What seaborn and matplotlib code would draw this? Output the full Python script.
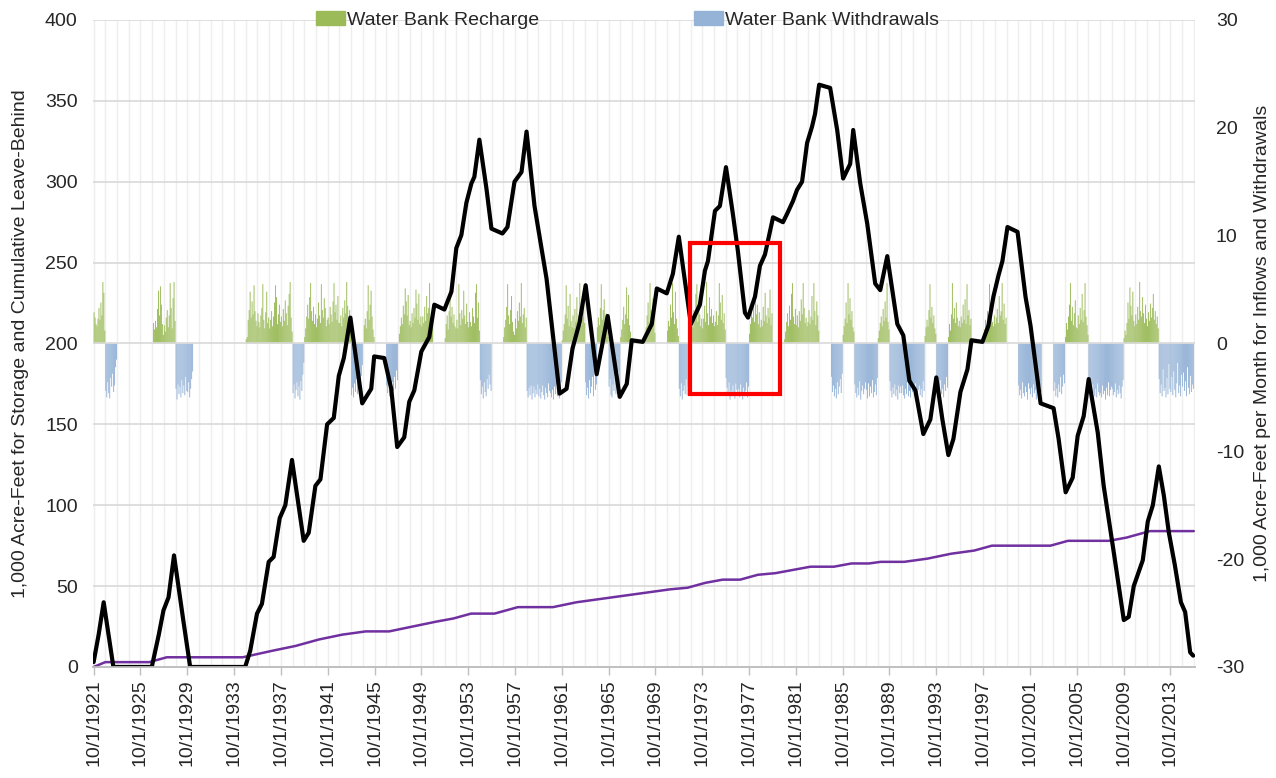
import numpy as np
import seaborn as sns
import matplotlib.pyplot as plt
from matplotlib.patches import Rectangle, Patch

# storage (1,000 AF); x in decimal years
storage_year = [1921.75, 1922.18, 1922.61, 1923.44, 1926.72, 1927.32, 1927.72, 1928.15, 1928.62,
                1929.43, 1930.00, 1934.70, 1935.13, 1935.71, 1936.13, 1936.71, 1937.13, 1937.65,
                1938.13, 1938.70, 1939.70, 1940.13, 1940.70, 1941.13, 1941.70, 1942.27, 1942.70,
                1943.13, 1943.69, 1944.70, 1945.47, 1945.72, 1946.58, 1947.18, 1947.69, 1948.29,
                1948.72, 1949.15, 1949.75, 1950.43, 1950.86, 1951.72, 1952.32, 1952.74, 1953.17,
                1953.60, 1954.03, 1954.28, 1954.71, 1955.31, 1955.74, 1956.68, 1957.11, 1957.71,
                1958.31, 1958.74, 1959.42, 1960.45, 1961.56, 1962.16, 1962.67, 1963.27, 1963.79,
                1964.73, 1965.67, 1966.70, 1967.30, 1967.73, 1968.67, 1969.44, 1969.87, 1970.72,
                1971.24, 1971.75, 1972.78, 1973.55, 1973.98, 1974.24, 1974.84, 1975.26, 1975.78,
                1976.37, 1976.80, 1977.40, 1977.66, 1978.26, 1978.68, 1979.11, 1979.80, 1980.65,
                1980.99, 1981.50, 1981.85, 1982.28, 1982.71, 1983.13, 1983.39, 1983.74, 1984.68,
                1985.28, 1985.79, 1986.39, 1986.65, 1987.25, 1987.85, 1988.53, 1988.96, 1989.56,
                1990.42, 1990.93, 1991.45, 1991.96, 1992.64, 1993.24, 1993.75, 1994.27, 1994.78,
                1995.21, 1995.81, 1996.41, 1996.75, 1997.69, 1998.20, 1998.63, 1999.06, 1999.40,
                1999.83, 2000.69, 2001.37, 2001.80, 2002.66, 2003.77, 2004.20, 2004.80, 2005.40,
                2005.83, 2006.34, 2006.77, 2007.54, 2008.05, 2008.91, 2009.77, 2010.19, 2010.62,
                2011.39, 2011.82, 2012.25, 2012.76, 2013.19, 2013.62, 2014.13, 2014.65, 2015.01,
                2015.44, 2015.70]
storage_kaf = [3, 20, 40, 0, 0, 20, 35, 43, 69,
               28, 0, 0, 10, 33, 39, 65, 68, 92,
               100, 128, 78, 83, 112, 116, 150, 154, 180,
               191, 216, 163, 172, 192, 191, 172, 136, 142,
               164, 171, 195, 204, 224, 221, 232, 259, 267,
               287, 299, 303, 326, 296, 271, 268, 272, 300,
               306, 331, 285, 240, 169, 172, 197, 213, 236,
               181, 217, 167, 175, 202, 201, 212, 234, 231,
               243, 266, 212, 224, 245, 251, 282, 285, 309,
               280, 257, 219, 216, 229, 248, 255, 278, 275,
               280, 288, 295, 300, 324, 334, 342, 360, 358,
               332, 302, 311, 332, 299, 274, 237, 233, 254,
               212, 205, 177, 171, 144, 153, 179, 153, 131,
               141, 170, 184, 202, 201, 211, 229, 242, 251,
               272, 269, 229, 211, 163, 160, 141, 108, 117,
               143, 155, 178, 145, 112, 71, 29, 31, 50,
               66, 90, 100, 124, 106, 83, 63, 40, 34,
               9, 7]

# cumulative leave-behind (purple line)
leave_year = [1921.75, 1922.75, 1926.5, 1928.0, 1934.5, 1937.0, 1939.0, 1941.0, 1943.0, 1945.0,
              1947.0, 1949.0, 1951.0, 1952.5, 1954.0, 1956.0, 1958.0, 1961.0, 1963.0, 1965.0,
              1967.0, 1969.0, 1971.0, 1972.5, 1974.0, 1975.5, 1977.0, 1978.5, 1980.0, 1981.5,
              1983.0, 1985.0, 1986.5, 1988.0, 1989.0, 1991.0, 1993.0, 1995.0, 1997.0, 1998.5,
              2003.5, 2005.0, 2008.5, 2010.0, 2012.0, 2015.75]
leave_kaf = [0, 3, 3, 6, 6, 10, 13, 17, 20, 22,
             22, 25, 28, 30, 33, 33, 37, 37, 40, 42,
             44, 46, 48, 49, 52, 54, 54, 57, 58, 60,
             62, 62, 64, 64, 65, 65, 67, 70, 72, 75,
             75, 78, 78, 80, 84, 84]

# monthly recharge (Oct..Sep of each water year), 1,000 AF per month
recharge_wy = [1922, 1927, 1928, 1935, 1936, 1937, 1938, 1940, 1941, 1942, 1943, 1945,
               1948, 1949, 1950, 1952, 1953, 1954, 1957, 1958, 1962, 1963, 1965, 1967,
               1969, 1971, 1973, 1974, 1975, 1978, 1979, 1981, 1982, 1983, 1986, 1989,
               1993, 1995, 1996, 1998, 1999, 2005, 2006, 2010, 2011, 2012]
recharge_monthly = [
    [2.9, 2.4, 1.8, 1.6, 2.3, 3.3, 2.2, 3.8, 2.6, 5.7, 4.7, 1.2],
    [0.0, 1.9, 1.3, 2.1, 1.5, 3.2, 4.9, 2.6, 5.3, 3.6, 1.8, 0.8],
    [1.7, 1.1, 2.4, 3.1, 1.5, 2.6, 5.6, 3.3, 1.4, 4.2, 5.7, 2.1],
    [0.4, 0.6, 2.2, 3.1, 4.8, 2.4, 3.9, 2.7, 5.4, 3.0, 2.1, 1.6],
    [2.8, 2.0, 1.5, 2.6, 3.3, 5.5, 2.2, 1.4, 2.9, 4.8, 1.9, 2.4],
    [1.4, 2.2, 3.0, 1.6, 2.5, 3.8, 5.4, 4.3, 1.8, 2.7, 3.6, 2.0],
    [2.5, 1.6, 3.2, 2.1, 4.0, 2.8, 1.7, 3.5, 4.6, 5.7, 2.4, 1.1],
    [0.6, 1.4, 2.5, 3.6, 2.3, 4.3, 5.6, 3.0, 2.1, 3.4, 1.8, 2.7],
    [1.5, 2.3, 3.8, 2.6, 1.9, 5.5, 3.1, 2.4, 4.2, 3.3, 1.6, 2.2],
    [2.4, 1.8, 3.4, 2.7, 2.0, 3.9, 5.6, 2.9, 3.6, 2.2, 4.4, 1.9],
    [1.9, 2.6, 1.6, 3.3, 2.4, 4.0, 2.8, 5.7, 3.5, 2.0, 3.1, 1.4],
    [0.0, 1.7, 2.3, 1.4, 3.0, 5.4, 2.2, 3.6, 4.9, 2.5, 1.3, 0.6],
    [0.0, 0.9, 1.6, 2.4, 1.8, 3.5, 2.7, 5.1, 3.9, 2.6, 4.5, 1.7],
    [2.1, 1.5, 2.8, 1.9, 3.3, 2.4, 5.0, 3.7, 2.2, 4.6, 1.8, 2.5],
    [1.6, 2.5, 1.9, 3.4, 2.1, 4.4, 2.8, 3.3, 5.6, 2.4, 1.9, 2.9],
    [0.5, 1.8, 2.6, 1.3, 3.0, 4.8, 2.5, 3.4, 1.9, 2.7, 1.6, 1.4],
    [2.2, 1.4, 5.5, 2.8, 1.7, 3.1, 2.3, 4.9, 2.6, 1.8, 3.7, 2.0],
    [1.5, 2.9, 2.0, 1.6, 3.3, 2.5, 1.9, 4.7, 5.5, 2.4, 3.8, 1.2],
    [0.6, 1.5, 2.2, 3.4, 5.5, 2.6, 1.8, 3.1, 4.4, 2.0, 1.1, 0.8],
    [2.3, 1.4, 3.0, 2.1, 3.8, 2.5, 5.6, 1.9, 2.7, 3.3, 1.5, 2.4],
    [0.3, 1.2, 1.8, 2.7, 5.4, 2.3, 3.5, 1.6, 4.6, 2.1, 1.5, 2.6],
    [1.4, 3.2, 2.0, 4.3, 1.8, 2.6, 5.6, 3.0, 1.7, 2.4, 4.8, 1.9],
    [1.5, 2.4, 1.7, 3.3, 5.5, 2.2, 3.1, 4.1, 1.6, 2.8, 1.2, 0.6],
    [0.6, 1.3, 2.2, 3.4, 1.8, 2.7, 5.2, 2.3, 4.5, 1.7, 1.1, 0.5],
    [0.0, 0.8, 1.5, 2.6, 3.8, 2.0, 5.6, 3.1, 1.7, 4.2, 2.4, 1.0],
    [1.2, 2.1, 1.6, 3.6, 2.4, 5.6, 2.9, 1.8, 4.8, 2.3, 1.4, 0.7],
    [1.8, 2.6, 1.5, 3.1, 2.2, 4.6, 5.5, 2.0, 3.4, 2.7, 1.6, 2.3],
    [1.4, 2.3, 3.5, 2.0, 5.7, 2.8, 1.7, 4.3, 2.5, 3.2, 1.9, 2.6],
    [1.6, 2.0, 3.0, 1.7, 2.6, 5.6, 3.8, 2.2, 4.5, 1.9, 2.8, 1.3],
    [0.9, 1.8, 3.1, 2.4, 4.2, 2.0, 5.3, 2.7, 3.6, 1.8, 2.9, 1.5],
    [2.2, 1.6, 3.4, 2.1, 4.7, 2.6, 1.9, 3.3, 2.4, 5.0, 1.7, 2.8],
    [0.4, 1.1, 2.0, 2.8, 1.6, 3.5, 2.2, 4.6, 5.6, 2.5, 1.8, 3.2],
    [1.7, 2.6, 1.5, 3.0, 2.1, 4.1, 2.7, 5.6, 3.3, 1.9, 2.4, 1.6],
    [2.0, 3.1, 1.8, 2.5, 4.4, 2.2, 5.6, 3.0, 1.7, 3.9, 2.6, 1.2],
    [0.8, 1.6, 2.3, 3.8, 1.9, 5.6, 2.7, 4.2, 2.2, 3.0, 1.5, 1.1],
    [0.5, 1.2, 1.9, 2.5, 1.6, 3.2, 2.1, 3.9, 2.4, 5.6, 2.0, 1.3],
    [0.7, 1.5, 2.2, 1.6, 3.1, 5.5, 2.4, 3.4, 1.9, 2.6, 1.4, 0.9],
    [0.6, 1.8, 1.2, 2.7, 5.6, 2.3, 3.3, 1.9, 3.8, 2.4, 1.6, 2.1],
    [1.5, 2.5, 1.9, 3.6, 2.2, 4.1, 1.8, 5.5, 2.6, 3.1, 1.7, 2.3],
    [0.4, 1.3, 2.2, 1.7, 3.0, 2.4, 5.5, 2.9, 3.5, 2.0, 1.6, 2.6],
    [1.8, 2.4, 3.2, 1.9, 4.4, 2.6, 3.0, 5.6, 2.2, 3.7, 1.8, 2.4],
    [0.6, 1.9, 1.3, 2.5, 3.6, 5.6, 2.1, 3.4, 1.7, 2.8, 4.0, 1.5],
    [1.4, 2.6, 1.8, 3.3, 2.2, 4.6, 2.0, 3.1, 5.6, 2.5, 1.7, 0.8],
    [0.5, 1.2, 0.8, 1.9, 3.8, 2.3, 5.2, 3.5, 2.6, 4.8, 2.1, 1.6],
    [2.7, 1.8, 3.4, 2.2, 5.7, 3.0, 2.5, 4.3, 2.8, 1.9, 3.6, 2.3],
    [1.6, 2.9, 2.1, 3.7, 2.4, 3.3, 4.6, 2.2, 3.0, 1.8, 2.5, 1.4],
]

# monthly withdrawals (Oct..Sep of each water year)
withdrawal_wy = [1923, 1929, 1930, 1939, 1944, 1947, 1955, 1959, 1960, 1961, 1964, 1966,
                 1972, 1976, 1977, 1985, 1987, 1988, 1990, 1991, 1992, 1994, 2001, 2002,
                 2004, 2007, 2008, 2009, 2013, 2014, 2015]
withdrawal_monthly = [
    [-4.4, -5.0, -3.6, -4.6, -5.1, -3.2, -4.0, -2.8, -4.5, -3.9, -2.2, -1.5],
    [-4.2, -5.2, -3.8, -4.7, -4.0, -5.0, -3.4, -4.6, -3.9, -4.8, -3.1, -4.4],
    [-4.5, -3.6, -5.0, -4.2, -3.3, -2.6, 0.0, 0.0, 0.0, 0.0, 0.0, 0.0],
    [-4.6, -3.8, -5.1, -4.3, -3.6, -4.9, -4.0, -5.2, -3.5, -4.4, -2.9, -1.8],
    [-4.8, -4.1, -5.0, -3.7, -4.5, -3.3, -4.7, -3.9, -2.8, -4.3, -3.0, -2.0],
    [-3.9, -4.6, -3.2, -4.9, -4.1, -5.0, -3.6, -4.4, -3.1, -4.2, -2.5, -3.4],
    [-3.4, -4.7, -4.0, -5.1, -3.6, -4.5, -4.9, -3.3, -4.2, -2.9, -3.8, -4.4],
    [-4.4, -5.0, -4.1, -4.8, -3.9, -5.2, -4.6, -4.0, -5.0, -4.3, -4.7, -3.8],
    [-4.9, -4.2, -5.1, -4.5, -3.9, -4.8, -5.2, -4.1, -4.6, -5.0, -3.7, -4.4],
    [-4.6, -5.0, -4.3, -5.2, -4.0, -4.7, -3.8, -4.9, -4.4, -5.1, -4.2, -3.6],
    [-3.6, -4.8, -4.1, -5.1, -3.4, -4.6, -4.0, -3.1, -4.9, -2.7, -4.3, -3.8],
    [-4.0, -3.3, -4.8, -5.0, -3.8, -4.4, -2.9, -4.7, -3.5, -4.1, -2.6, -3.9],
    [-4.2, -4.9, -3.7, -5.2, -4.4, -3.9, -4.7, -3.3, -4.8, -4.0, -2.8, -3.5],
    [-3.2, -4.1, -4.7, -3.6, -5.2, -4.4, -4.9, -3.9, -4.6, -5.1, -3.7, -4.3],
    [-4.8, -4.2, -5.0, -3.8, -4.6, -5.2, -4.1, -4.9, -4.4, -3.6, -5.0, -4.0],
    [-3.1, -4.5, -3.9, -4.9, -4.2, -5.1, -3.6, -4.7, -4.0, -3.3, -4.6, -2.8],
    [-3.8, -4.6, -5.0, -4.1, -4.8, -3.5, -5.2, -4.4, -3.9, -4.7, -4.2, -3.6],
    [-4.3, -5.1, -3.7, -4.9, -4.0, -4.6, -3.4, -5.0, -4.5, -3.8, -4.8, -3.2],
    [-3.5, -4.4, -5.0, -4.1, -4.7, -3.8, -4.9, -4.3, -5.2, -3.9, -4.6, -4.0],
    [-4.6, -3.9, -4.8, -5.1, -4.2, -4.7, -3.6, -4.9, -4.4, -5.0, -3.8, -4.5],
    [-4.1, -4.9, -3.7, -4.6, -5.2, -4.3, -3.9, -4.8, -4.2, -5.0, -3.5, -4.4],
    [-3.7, -4.5, -4.0, -4.9, -3.4, -4.7, -4.2, -5.0, -3.8, -4.4, -3.1, -4.1],
    [-3.9, -4.8, -4.3, -5.1, -3.6, -4.6, -4.9, -4.0, -4.5, -5.2, -3.7, -4.2],
    [-4.7, -4.1, -5.0, -3.8, -4.6, -4.3, -5.2, -3.5, -4.8, -4.4, -3.9, -4.5],
    [-4.4, -3.6, -4.9, -4.2, -5.0, -3.8, -4.5, -3.1, -4.7, -4.0, -2.9, -3.7],
    [-4.0, -4.7, -4.3, -5.1, -3.8, -4.6, -4.9, -4.2, -5.0, -3.7, -4.5, -4.8],
    [-4.6, -5.0, -3.9, -4.7, -4.4, -5.2, -4.1, -4.8, -3.6, -4.9, -4.3, -4.0],
    [-4.2, -4.8, -4.5, -3.7, -5.0, -4.3, -4.7, -3.9, -4.6, -5.1, -4.0, -3.4],
    [-3.3, -4.6, -3.8, -4.9, -2.4, -4.4, -4.1, -5.0, -3.2, -4.7, -1.9, -4.2],
    [-4.5, -3.1, -4.8, -2.6, -4.3, -5.0, -3.7, -1.8, -4.6, -3.9, -4.9, -2.9],
    [-4.0, -2.7, -4.4, -3.5, -4.9, -2.2, -4.1, -4.7, -3.0, -4.5, -3.8, -4.2],
]

tick_years = list(range(1921, 2014, 4))
tick_labels = ["10/1/%d" % y for y in tick_years]

# highlighted period (red box), in years and left-axis units
highlight_x = (1972.7, 1980.4)
highlight_y = (169, 262)

GREEN = "#9BBB59"
BLUE = "#95B3D7"
PURPLE = "#7030A0"


def monthly_bars(years, values):
    xs, hs = [], []
    for wy, vals in zip(years, values):
        for i, v in enumerate(vals):
            xs.append(wy - 1 + 0.75 + (i + 0.5) / 12)
            hs.append(v)
    return np.array(xs), np.array(hs)


sns.set_theme(style="white")
plt.rcParams['font.family'] = ['Liberation Sans', 'DejaVu Sans']
plt.rcParams['axes.unicode_minus'] = False
fs = 14
txt = "#262626"

fig = plt.figure(figsize=(12.76, 7.78), dpi=100)
ax = fig.add_axes([0.0729, 0.1427, 0.8636, 0.8316])
ax2 = ax.twinx()

# bars on the right axis (not snapped, so every 1-px month shows)
rx, rh = monthly_bars(recharge_wy, recharge_monthly)
wx, wh = monthly_bars(withdrawal_wy, withdrawal_monthly)
ax2.vlines(np.arange(1921.75, 2016, 1.0), -30, 30, color="#EEEEEE", lw=1, zorder=0)
ax2.bar(rx, rh, width=0.08, color=GREEN, linewidth=0, zorder=2, snap=False)
ax2.bar(wx, wh, width=0.08, color=BLUE, linewidth=0, zorder=2, snap=False)
ax2.set_ylim(-30, 30)
ax2.set_yticks(range(-30, 31, 10))

# lines on the left axis, drawn above the bars
ax.set_zorder(ax2.get_zorder() + 1)
ax.patch.set_visible(False)
sns.lineplot(x=leave_year, y=leave_kaf, ax=ax, color=PURPLE, linewidth=1.8, estimator=None, sort=False)
sns.lineplot(x=storage_year, y=storage_kaf, ax=ax, color="black", linewidth=3, estimator=None, sort=False)
ax.add_patch(Rectangle((highlight_x[0], highlight_y[0]), highlight_x[1] - highlight_x[0],
                       highlight_y[1] - highlight_y[0], fill=False, edgecolor="#FF0000", lw=3, zorder=5))

ax.set_ylim(0, 400)
ax.set_yticks(range(0, 401, 50))
ax.set_xlim(1921.7, 2015.85)
ax.set_xticks([y + 0.75 for y in tick_years])
ax.set_xticklabels(tick_labels, rotation=90)
ax.yaxis.grid(True, color="#D9D9D9", lw=1.2)
ax.xaxis.grid(False)

for a in (ax, ax2):
    for s in ("left", "right", "top"):
        a.spines[s].set_visible(False)
    a.spines["bottom"].set_color("#BFBFBF")
ax.tick_params(axis="x", bottom=True, length=6, width=1, color="#BFBFBF", pad=3, labelsize=fs, labelcolor=txt)
ax.tick_params(axis="y", left=False, pad=5, labelsize=fs, labelcolor=txt)
ax2.tick_params(axis="y", right=False, pad=9, labelsize=fs, labelcolor=txt)

ax.set_ylabel("1,000 Acre-Feet for Storage and Cumulative Leave-Behind", fontsize=fs, color=txt)
ax.yaxis.set_label_coords(-0.058, 0.5)
ax2.set_ylabel("1,000 Acre-Feet per Month for Inflows and Withdrawals", fontsize=fs, color=txt)
ax2.yaxis.set_label_coords(1.054, 0.5)

handles = [Patch(color=GREEN), Patch(color=BLUE)]
ax.legend(handles, ["Water Bank Recharge", "Water Bank Withdrawals"], loc="center",
          bbox_to_anchor=(0.485, 1.0), ncol=2, frameon=False, fontsize=fs, columnspacing=8,
          handlelength=1.5, handleheight=0.7, handletextpad=0.1, labelcolor=txt)

fig.savefig("out.png", dpi=100)
